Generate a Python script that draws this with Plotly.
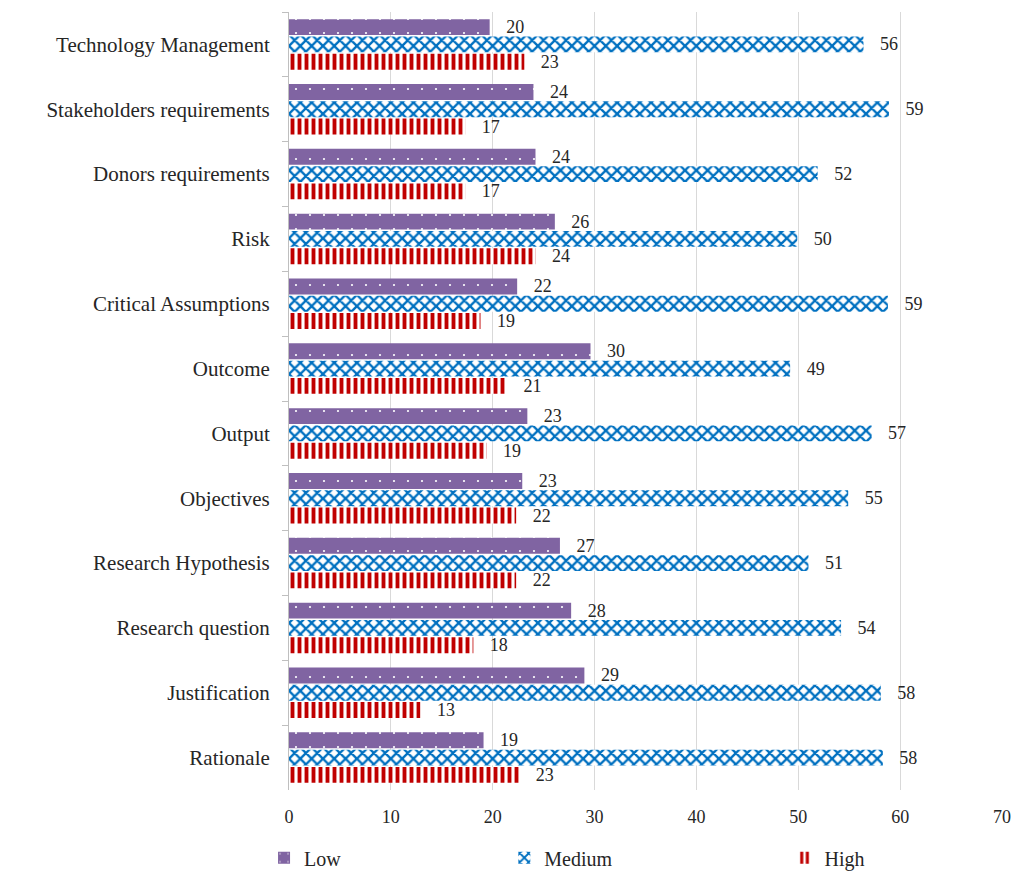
import plotly.graph_objects as go

categories = ["Technology Management", "Stakeholders requirements", "Donors requirements",
              "Risk", "Critical Assumptions", "Outcome", "Output", "Objectives",
              "Research Hypothesis", "Research question", "Justification", "Rationale"]
low = [19.7, 24.0, 24.2, 26.1, 22.4, 29.6, 23.4, 22.9, 26.6, 27.7, 29.0, 19.1]
medium = [56.4, 58.9, 51.9, 49.9, 58.8, 49.2, 57.2, 54.9, 51.0, 54.2, 58.1, 58.3]
high = [23.1, 17.3, 17.3, 24.2, 18.8, 21.4, 19.4, 22.3, 22.3, 18.1, 12.9, 22.6]
x_ticks = [0, 10, 20, 30, 40, 50, 60, 70]

FONT = "Liberation Serif, Times New Roman, serif"

fig = go.Figure()
# Low: purple with sparse white dots
fig.add_trace(go.Bar(
    y=categories, x=low, name="Low", orientation="h", legend="legend",
    marker=dict(color="#8064A2", line=dict(width=0),
                pattern=dict(shape=".", fgcolor="white", bgcolor="#8064A2",
                             fillmode="replace", size=14, solidity=0.02)),
))
# Medium: blue / white mosaic
fig.add_trace(go.Bar(
    y=categories, x=medium, name="Medium", orientation="h", legend="legend2",
    marker=dict(color="white", line=dict(width=0),
                pattern=dict(shape="x", fgcolor="#0070C0", bgcolor="white",
                             fillmode="replace", size=8, solidity=0.5)),
))
# High: red vertical stripes
fig.add_trace(go.Bar(
    y=categories, x=high, name="High", orientation="h", legend="legend3",
    marker=dict(color="white", line=dict(width=0),
                pattern=dict(shape="|", fgcolor="#C00000", bgcolor="white",
                             fillmode="replace", size=7, solidity=0.55)),
))
fig.update_traces(texttemplate="   %{x:.0f}", textposition="outside", constraintext="none",
                  textfont=dict(family=FONT, size=18, color="#262626"), cliponaxis=False)

leg_common = dict(orientation="h", yref="container", yanchor="middle", y=0.022,
                  xanchor="left",
                  font=dict(family=FONT, size=20, color="#262626"), itemwidth=30,
                  bgcolor="rgba(0,0,0,0)")
fig.update_layout(
    width=1023, height=877,
    margin=dict(l=289, r=21, t=12, b=87),
    paper_bgcolor="white", plot_bgcolor="white",
    barmode="group", bargap=0.2, bargroupgap=0.08,
    font=dict(family=FONT, size=20, color="#262626"),
    showlegend=True,
    legend=dict(x=-0.035, **leg_common),
    legend2=dict(x=0.302, **leg_common),
    legend3=dict(x=0.695, **leg_common),
)
fig.update_xaxes(range=[0, 70], tickvals=x_ticks, showgrid=True, gridcolor="#d9d9d9",
                 gridwidth=1, zeroline=False, showline=False, ticks="",
                 ticklabelstandoff=14,
                 tickfont=dict(family=FONT, size=18, color="#262626"))
fig.update_yaxes(autorange="reversed", showline=True, linecolor="#bfbfbf", linewidth=1,
                 ticks="outside", tickson="boundaries", ticklen=6, tickcolor="#bfbfbf",
                 ticklabelstandoff=14,
                 tickfont=dict(family=FONT, size=21, color="#262626"))

fig.write_html("out.html")
